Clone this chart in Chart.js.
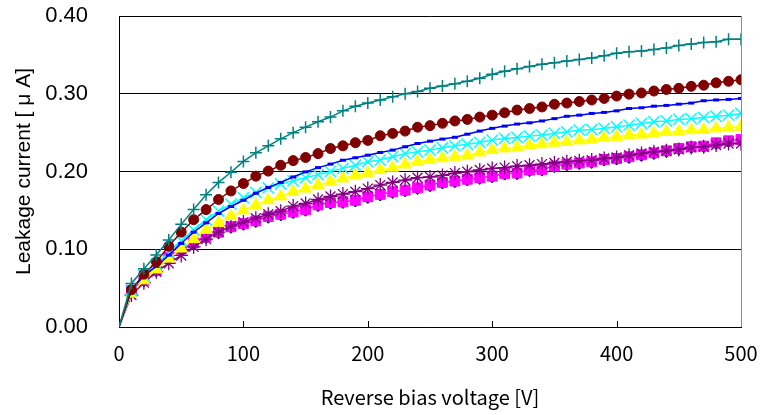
<!DOCTYPE html>
<html>
<head>
<meta charset="utf-8">
<script src="https://cdn.jsdelivr.net/npm/chart.js@4.4.0/dist/chart.umd.min.js"></script>
<style>
  html, body { margin: 0; padding: 0; background: #fff; }
  #wrap { width: 761px; height: 415px; }
</style>
</head>
<body>
<div id="wrap"><canvas id="leak_chart" width="761" height="415"></canvas></div>
<script>
// reverse bias voltage [V]
var voltage = [0,10,20,30,40,50,60,70,80,90,100,110,120,130,140,150,160,170,180,190,200,
  210,220,230,240,250,260,270,280,290,300,310,320,330,340,350,360,370,380,390,400,
  410,420,430,440,450,460,470,480,490,500];

// leakage current [uA]
var teal_data = [0,0.056,0.075,0.0925,0.112,0.132,0.151,0.170,0.186,0.199,0.213,0.224,0.233,0.242,0.250,0.257,0.264,0.270,0.278,0.284,0.288,
  0.292,0.296,0.300,0.303,0.307,0.310,0.313,0.316,0.320,0.325,0.329,0.332,0.335,0.338,0.340,0.342,0.344,0.346,0.349,0.352,
  0.354,0.355,0.357,0.359,0.362,0.364,0.366,0.367,0.370,0.370];
var red_data = [0,0.048,0.068,0.084,0.104,0.122,0.138,0.151,0.164,0.175,0.1845,0.194,0.2005,0.208,0.214,0.218,0.223,0.2295,0.233,0.237,0.240,
  0.246,0.249,0.252,0.257,0.259,0.262,0.265,0.267,0.270,0.2725,0.2755,0.279,0.281,0.283,0.2865,0.288,0.290,0.292,0.294,0.297,
  0.2995,0.301,0.3035,0.3055,0.307,0.3095,0.311,0.314,0.316,0.318];
var blue_data = [0,0.0475,0.066,0.078,0.0925,0.1075,0.122,0.134,0.146,0.155,0.163,0.172,0.1795,0.186,0.193,0.1995,0.205,0.2095,0.2145,0.2177,0.221,
  0.2245,0.2275,0.2318,0.236,0.239,0.2417,0.244,0.248,0.252,0.2555,0.2584,0.261,0.2626,0.265,0.268,0.271,0.2725,0.2747,0.276,0.278,
  0.281,0.282,0.284,0.285,0.2866,0.288,0.291,0.292,0.2927,0.294];
var cyan_data = [0,0.047,0.066,0.081,0.096,0.111,0.125,0.138,0.149,0.158,0.166,0.173,0.179,0.184,0.188,0.192,0.196,0.200,0.204,0.208,0.2125,
  0.2147,0.219,0.223,0.2253,0.2275,0.2305,0.233,0.235,0.2374,0.2404,0.2425,0.2438,0.2455,0.2468,0.249,0.251,0.2532,0.254,0.2554,0.2575,
  0.2596,0.2618,0.264,0.265,0.267,0.268,0.2695,0.271,0.2725,0.2747];
var yellow_data = [0,0.043,0.060,0.074,0.088,0.101,0.113,0.125,0.134,0.1427,0.150,0.157,0.163,0.168,0.174,0.178,0.1825,0.187,0.191,0.1954,0.1983,
  0.2018,0.2048,0.209,0.2125,0.215,0.217,0.219,0.221,0.2245,0.2275,0.2297,0.231,0.234,0.235,0.237,0.238,0.240,0.241,0.2435,0.2445,
  0.2468,0.2475,0.249,0.251,0.2515,0.2532,0.2535,0.2554,0.2567,0.2575];
var purple_data = [0,0.041,0.057,0.071,0.082,0.092,0.103,0.113,0.122,0.130,0.135,0.140,0.145,0.149,0.1555,0.159,0.164,0.168,0.171,0.174,0.178,
  0.1825,0.186,0.189,0.192,0.193,0.195,0.198,0.1997,0.202,0.204,0.205,0.207,0.208,0.2095,0.211,0.2125,0.2137,0.2147,0.2168,0.218,
  0.221,0.2233,0.2253,0.2266,0.2284,0.231,0.2318,0.234,0.236,0.236];
var magenta_data = [0,0.047,0.060,0.073,0.090,0.100,0.108,0.116,0.122,0.129,0.133,0.1365,0.142,0.145,0.148,0.151,0.157,0.160,0.161,0.163,0.1675,
  0.1706,0.174,0.176,0.179,0.1825,0.186,0.1877,0.190,0.192,0.194,0.1975,0.198,0.2018,0.2027,0.207,0.2095,0.211,0.2125,0.2155,0.2168,
  0.219,0.2215,0.224,0.2266,0.2296,0.2318,0.2326,0.2369,0.2395,0.2413];
// small navy marks peeking out under the magenta squares
var navy_data = [0,0.041,0.054,0.067,0.084,0.094,0.102,0.110,0.116,0.123,0.127,0.1305,0.136,0.139,0.142,0.145,0.151,0.154,0.155,0.157,0.1615,
  0.1646,0.168,0.170,0.173,0.1765,0.180,0.1817,0.184,0.186,0.188,0.1915,0.192,0.1958,0.1967,0.201,0.2035,0.205,0.2065,0.2095,0.2108,
  0.213,0.2155,0.218,0.2206,0.2236,0.2258,0.2266,0.2309,0.2335,0.2353];

var y_ticks = [0, 0.1, 0.2, 0.3, 0.4];
var x_ticks = [0, 100, 200, 300, 400, 500];

function pts(arr) {
    return voltage.map(function (v, i) { return { x: v, y: arr[i] }; });
}
// no marker at the origin
function rad(r) {
    return voltage.map(function (v) { return v === 0 ? 0 : r; });
}

function series(data, color, style, r, fill, bw) {
    return {
        data: pts(data),
        borderColor: color,
        borderWidth: 1.5,
        pointStyle: style,
        pointRadius: rad(r),
        pointHoverRadius: rad(r),
        pointBackgroundColor: fill,
        pointBorderColor: color,
        pointBorderWidth: bw,
        tension: 0
    };
}

var navy = series(navy_data, "#000080", "rectRot", 2, "#000080", 1);
navy.showLine = false;

var datasets = [
    series(teal_data, "#008080", "cross", 6, "#008080", 1.5),
    series(red_data, "#800000", "circle", 5, "#800000", 1),
    series(blue_data, "#0000FF", "line", 3, "#0000FF", 3),
    series(cyan_data, "#00FFFF", "crossRot", 8, "#00FFFF", 1.5),
    series(yellow_data, "#FFFF00", "triangle", 7, "#FFFF00", 1),
    series(purple_data, "#800080", "star", 7, "#800080", 1.3),
    series(magenta_data, "#FF00FF", "rect", 7, "#FF00FF", 1),
    navy
];

// inward x ticks and grey right frame
var frame = {
    id: "frame",
    afterDatasetsDraw: function (chart) {
        var c = chart.ctx, a = chart.chartArea, xs = chart.scales.x;
        c.save();
        c.strokeStyle = "#000";
        c.lineWidth = 1;
        x_ticks.forEach(function (t) {
            if (t === 0) return;
            var px = Math.round(xs.getPixelForValue(t)) + 0.5;
            c.beginPath();
            c.moveTo(px, a.bottom);
            c.lineTo(px, a.bottom - 6);
            c.stroke();
        });
        c.strokeStyle = "#8c8c8c";
        c.beginPath();
        c.moveTo(Math.round(a.right) + 0.5, a.top);
        c.lineTo(Math.round(a.right) + 0.5, a.bottom);
        c.stroke();
        c.restore();
    }
};

var ctx = document.getElementById("leak_chart");
var myChart = new Chart(ctx, {
    type: "line",
    data: { datasets: datasets },
    options: {
        responsive: false,
        animation: false,
        devicePixelRatio: 1,
        layout: { padding: { top: 16, right: 20, left: 0, bottom: 0 } },
        plugins: { legend: { display: false }, tooltip: { enabled: false } },
        scales: {
            x: {
                type: "linear",
                min: 0,
                max: 500,
                afterBuildTicks: function (s) { s.ticks = x_ticks.map(function (v) { return { value: v }; }); },
                afterFit: function (s) { s.height = 88; s.paddingLeft = 0; s.paddingRight = 0; },
                grid: { display: false, drawTicks: false },
                border: { display: true, color: "#000", width: 1 },
                ticks: {
                    padding: 14,
                    color: "#000",
                    font: { family: "'Noto Sans CJK JP'", size: 20 }
                },
                title: {
                    display: true,
                    text: "Reverse bias voltage [V]",
                    color: "#000",
                    padding: { top: 0, bottom: 6 },
                    font: { family: "'Noto Sans CJK JP'", size: 20 }
                }
            },
            y: {
                min: 0,
                max: 0.4,
                afterBuildTicks: function (s) { s.ticks = y_ticks.map(function (v) { return { value: v }; }); },
                afterFit: function (s) { s.width = 119; s.paddingTop = 0; s.paddingBottom = 0; },
                grid: { color: "#000", lineWidth: 1, drawTicks: false },
                border: { display: true, color: "#000", width: 1 },
                ticks: {
                    padding: 31,
                    color: "#000",
                    font: { family: "'Liberation Sans'", size: 22 },
                    callback: function (v) { return v.toFixed(2); }
                },
                title: {
                    display: true,
                    text: "Leakage current [ μ A]",
                    color: "#000",
                    padding: { top: 12, bottom: 0 },
                    font: { family: "'Liberation Sans'", size: 21 }
                }
            }
        }
    },
    plugins: [frame]
});
</script>
</body>
</html>
